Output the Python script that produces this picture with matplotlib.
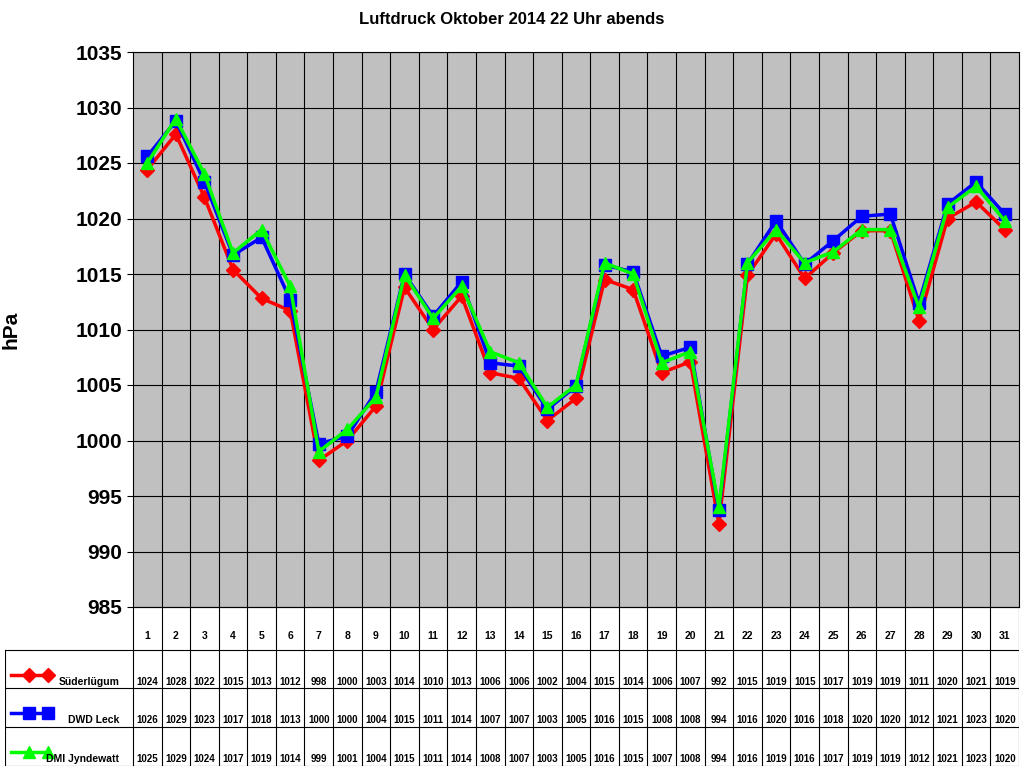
import matplotlib.pyplot as plt
import numpy as np

plt.rcParams['font.family'] = 'Liberation Sans'
plt.rcParams['font.weight'] = 'bold'

days = list(range(1, 32))
sued = [1024.4, 1027.6, 1021.9, 1015.4, 1012.8, 1011.7, 998.2, 1000.0, 1003.1, 1013.8,
        1010.0, 1013.0, 1006.1, 1005.6, 1001.8, 1003.8, 1014.5, 1013.6, 1006.1, 1007.1,
        992.5, 1014.9, 1018.6, 1014.6, 1016.9, 1018.9, 1018.9, 1010.8, 1020.0, 1021.5, 1019.0]
dwd = [1025.6, 1028.8, 1023.3, 1016.7, 1018.3, 1012.7, 999.7, 1000.4, 1004.4, 1015.0,
       1011.2, 1014.3, 1007.0, 1006.7, 1002.8, 1004.9, 1015.8, 1015.2, 1007.6, 1008.4,
       993.7, 1015.9, 1019.8, 1015.9, 1018.0, 1020.2, 1020.4, 1012.4, 1021.3, 1023.3, 1020.4]
dmi = [1025.0, 1029.0, 1024.0, 1016.9, 1019.0, 1013.9, 999.0, 1001.0, 1003.9, 1014.9,
       1011.0, 1013.9, 1008.0, 1007.0, 1003.0, 1005.0, 1016.0, 1015.0, 1007.0, 1008.0,
       994.0, 1016.0, 1019.0, 1016.0, 1017.0, 1019.0, 1019.0, 1012.0, 1021.0, 1022.9, 1019.8]
tab_sued = [1024, 1028, 1022, 1015, 1013, 1012, 998, 1000, 1003, 1014, 1010, 1013, 1006, 1006, 1002, 1004,
            1015, 1014, 1006, 1007, 992, 1015, 1019, 1015, 1017, 1019, 1019, 1011, 1020, 1021, 1019]
tab_dwd = [1026, 1029, 1023, 1017, 1018, 1013, 1000, 1000, 1004, 1015, 1011, 1014, 1007, 1007, 1003, 1005,
           1016, 1015, 1008, 1008, 994, 1016, 1020, 1016, 1018, 1020, 1020, 1012, 1021, 1023, 1020]
tab_dmi = [1025, 1029, 1024, 1017, 1019, 1014, 999, 1001, 1004, 1015, 1011, 1014, 1008, 1007, 1003, 1005,
           1016, 1015, 1007, 1008, 994, 1016, 1019, 1016, 1017, 1019, 1019, 1012, 1021, 1023, 1020]

series = [("Süderlügum", sued, tab_sued, "#FF0000", "D", 7),
          ("DWD Leck", dwd, tab_dwd, "#0000FF", "s", 8),
          ("DMI Jyndewatt", dmi, tab_dmi, "#00FF00", "^", 9)]

W, H = 1024, 768
fig = plt.figure(figsize=(10.24, 7.68), dpi=100)
L, R, T, B = 133, 1019, 52, 607
ax = fig.add_axes([L / W, 1 - B / H, (R - L) / W, (B - T) / H])
ax.set_facecolor("#C0C0C0")
ax.set_xlim(0.5, 31.5)
ax.set_ylim(985, 1035)
ax.set_yticks(np.arange(985, 1036, 5))
ax.set_xticks([])
ax.tick_params(axis='y', labelsize=15, length=4)
for lab in ax.get_yticklabels():
    lab.set_fontweight('bold')
ax.yaxis.grid(True, color='black', linewidth=0.8)
for x in np.arange(1.5, 31.5, 1):
    ax.axvline(x, color='black', linewidth=0.8)
ax.set_axisbelow(True)
for name, vals, _, col, mk, ms in series:
    ax.plot(days, vals, color=col, linewidth=2.5, marker=mk, markersize=ms, zorder=3)
ax.set_ylabel("hPa", fontsize=15, fontweight='bold', labelpad=40)
fig.text(0.5, 1 - 20 / H, "Luftdruck Oktober 2014 22 Uhr abends", ha='center', va='center',
         fontsize=12, fontweight='bold')

# data table
TL, TB = 5, 766
colw = (R - L) / 31
tax = fig.add_axes([TL / W, 1 - TB / H, (R - TL) / W, (TB - B) / H])
tax.set_xlim(0.5 - (L - TL) / colw, 31.5)
tax.set_ylim(TB, B)
tax.axis('off')
rows = [B, 650, 688, 727, TB]
for y in rows:
    tax.plot([tax.get_xlim()[0] if y != B else 0.5, 31.5], [y, y], color='black', lw=0.8)
tax.plot([tax.get_xlim()[0]] * 2, [650, TB], color='black', lw=0.8)
for x in np.arange(0.5, 32, 1):
    tax.plot([x, x], [B, TB], color='black', lw=0.8)
for d in days:
    tax.text(d, 636, str(d), ha='center', va='center', fontsize=7.5)
x0 = tax.get_xlim()[0]
for i, (name, vals, tab, col, mk, ms) in enumerate(series):
    yl = rows[i + 1] + 25
    yt = rows[i + 1] + 32
    tax.plot([x0 + 0.2, x0 + 1.5], [yl, yl], color=col, lw=2.5, marker=mk, markersize=ms,
             markevery=[1], clip_on=False)
    tax.plot([x0 + 0.85], [yl], color=col, marker=mk, markersize=ms, clip_on=False)
    tax.text(x0 + 4.0, yt, name, ha='right', va='center', fontsize=7.5)
    for d, v in zip(days, tab):
        tax.text(d, yt, str(v), ha='center', va='center', fontsize=7)

fig.savefig("out.png", dpi=100)
